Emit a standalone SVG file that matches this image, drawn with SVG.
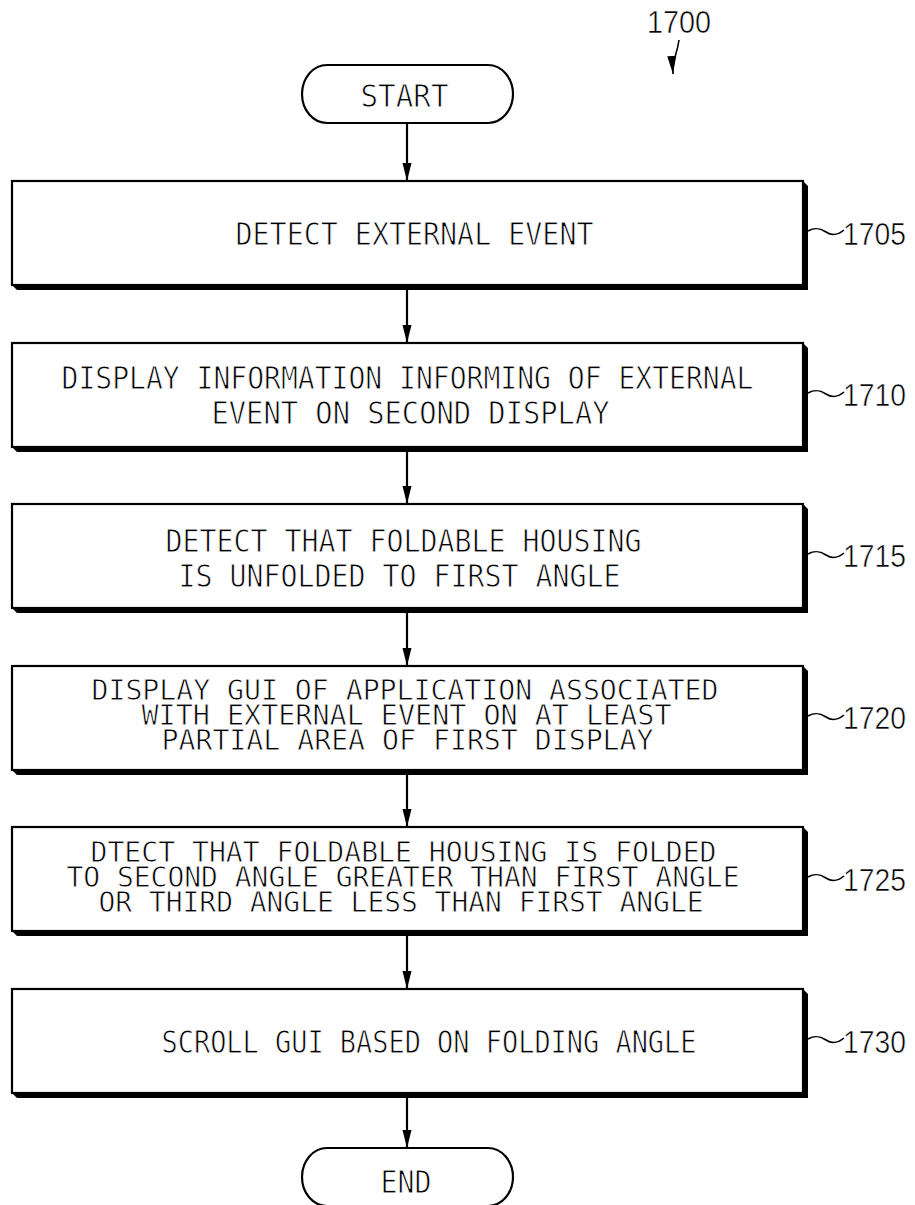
<svg xmlns="http://www.w3.org/2000/svg" width="915" height="1205" viewBox="0 0 915 1205">
<style>
.bg{fill:#fff}
.box{fill:#fff;stroke:#000;stroke-width:2.2}
.sh{fill:#000}
.term{fill:#fff;stroke:#000;stroke-width:2.2}
.t{font-family:"DejaVu Sans Mono","Liberation Mono",monospace;font-size:32px;fill:#000;stroke:#fff;stroke-width:0.9px}
.t3{font-family:"DejaVu Sans Mono","Liberation Mono",monospace;font-size:29px;fill:#000;stroke:#fff;stroke-width:0.8px}
.lbl{font-family:"Liberation Sans",Arial,sans-serif;font-size:32px;fill:#000;stroke:#fff;stroke-width:0.6px}
.conn{stroke:#000;stroke-width:2.2;fill:none}
.lead{stroke:#000;stroke-width:1.6;fill:none}
</style>
<defs>
<marker id="ah" viewBox="0 0 18 10" refX="18" refY="5" markerWidth="18" markerHeight="10" markerUnits="userSpaceOnUse" orient="auto">
<path d="M0,0.5 L18,5 L0,9.5 z" fill="#000"/>
</marker>
</defs>
<rect class="bg" x="0" y="0" width="915" height="1205"/>

<g id="ref-1700">
<text class="lbl" x="647" y="33" font-size="28" textLength="64" lengthAdjust="spacingAndGlyphs">1700</text>
<path class="lead" d="M679,40 C677,55 672,60 673,74" marker-end="url(#ah)"/>
</g>

<g id="connectors">
<line class="conn" x1="407" y1="123" x2="407" y2="181" marker-end="url(#ah)"/>
<line class="conn" x1="407" y1="290" x2="407" y2="343" marker-end="url(#ah)"/>
<line class="conn" x1="407" y1="452" x2="407" y2="504" marker-end="url(#ah)"/>
<line class="conn" x1="407" y1="613" x2="407" y2="666" marker-end="url(#ah)"/>
<line class="conn" x1="407" y1="775" x2="407" y2="827" marker-end="url(#ah)"/>
<line class="conn" x1="407" y1="936" x2="407" y2="989" marker-end="url(#ah)"/>
<line class="conn" x1="407" y1="1098" x2="407" y2="1148" marker-end="url(#ah)"/>
</g>

<g id="start">
<rect class="term" x="302" y="65" width="211" height="58" rx="25" ry="29"/>
<text class="t" x="360.5" y="107" textLength="88" lengthAdjust="spacingAndGlyphs">START</text>
</g>

<g id="n1705">
<rect class="box" x="12" y="181" width="791" height="104"/>
<polygon class="sh" points="803,181 808,186 808,290 17,290 12,285 803,285"/>
<text class="t" x="235.5" y="245" textLength="358" lengthAdjust="spacingAndGlyphs">DETECT EXTERNAL EVENT</text>
<path class="lead" d="M808,231 C815,227 820,228 826,232 C832,236 838,235 844,230"/>
<text class="lbl" x="843" y="245" textLength="63" lengthAdjust="spacingAndGlyphs">1705</text>
</g>

<g id="n1710">
<rect class="box" x="12" y="343" width="791" height="104"/>
<polygon class="sh" points="803,343 808,348 808,452 17,452 12,447 803,447"/>
<text class="t" x="61.5" y="389" textLength="692" lengthAdjust="spacingAndGlyphs">DISPLAY INFORMATION INFORMING OF EXTERNAL</text>
<text class="t" x="211.5" y="424" textLength="398" lengthAdjust="spacingAndGlyphs">EVENT ON SECOND DISPLAY</text>
<path class="lead" d="M808,393 C815,389 820,390 826,394 C832,398 838,397 844,392"/>
<text class="lbl" x="843" y="406" textLength="63" lengthAdjust="spacingAndGlyphs">1710</text>
</g>

<g id="n1715">
<rect class="box" x="12" y="504" width="791" height="104"/>
<polygon class="sh" points="803,504 808,509 808,613 17,613 12,608 803,608"/>
<text class="t" x="165.5" y="552" textLength="476" lengthAdjust="spacingAndGlyphs">DETECT THAT FOLDABLE HOUSING</text>
<text class="t" x="178.5" y="587" textLength="442" lengthAdjust="spacingAndGlyphs">IS UNFOLDED TO FIRST ANGLE</text>
<path class="lead" d="M808,554 C815,550 820,551 826,555 C832,559 838,558 844,553"/>
<text class="lbl" x="843" y="567" textLength="63" lengthAdjust="spacingAndGlyphs">1715</text>
</g>

<g id="n1720">
<rect class="box" x="12" y="666" width="791" height="104"/>
<polygon class="sh" points="803,666 808,671 808,775 17,775 12,770 803,770"/>
<text class="t3" x="91.5" y="700" textLength="627" lengthAdjust="spacingAndGlyphs">DISPLAY GUI OF APPLICATION ASSOCIATED</text>
<text class="t3" x="141.5" y="725" textLength="530" lengthAdjust="spacingAndGlyphs">WITH EXTERNAL EVENT ON AT LEAST</text>
<text class="t3" x="161.5" y="750" textLength="492" lengthAdjust="spacingAndGlyphs">PARTIAL AREA OF FIRST DISPLAY</text>
<path class="lead" d="M808,716 C815,712 820,713 826,717 C832,721 838,720 844,715"/>
<text class="lbl" x="843" y="729" textLength="63" lengthAdjust="spacingAndGlyphs">1720</text>
</g>

<g id="n1725">
<rect class="box" x="12" y="827" width="791" height="104"/>
<polygon class="sh" points="803,827 808,832 808,936 17,936 12,931 803,931"/>
<text class="t3" x="90.5" y="862" textLength="626" lengthAdjust="spacingAndGlyphs">DTECT THAT FOLDABLE HOUSING IS FOLDED</text>
<text class="t3" x="66.5" y="887" textLength="673" lengthAdjust="spacingAndGlyphs">TO SECOND ANGLE GREATER THAN FIRST ANGLE</text>
<text class="t3" x="98.5" y="912" textLength="605" lengthAdjust="spacingAndGlyphs">OR THIRD ANGLE LESS THAN FIRST ANGLE</text>
<path class="lead" d="M808,877 C815,873 820,874 826,878 C832,882 838,881 844,876"/>
<text class="lbl" x="843" y="891" textLength="63" lengthAdjust="spacingAndGlyphs">1725</text>
</g>

<g id="n1730">
<rect class="box" x="12" y="989" width="791" height="104"/>
<polygon class="sh" points="803,989 808,994 808,1098 17,1098 12,1093 803,1093"/>
<text class="t" x="161.5" y="1053" textLength="535" lengthAdjust="spacingAndGlyphs">SCROLL GUI BASED ON FOLDING ANGLE</text>
<path class="lead" d="M808,1039 C815,1035 820,1036 826,1040 C832,1044 838,1043 844,1038"/>
<text class="lbl" x="843" y="1053" textLength="63" lengthAdjust="spacingAndGlyphs">1730</text>
</g>

<g id="end">
<rect class="term" x="302" y="1148" width="211" height="58" rx="25" ry="29"/>
<text class="t" x="380.5" y="1193" textLength="51" lengthAdjust="spacingAndGlyphs">END</text>
</g>
</svg>
